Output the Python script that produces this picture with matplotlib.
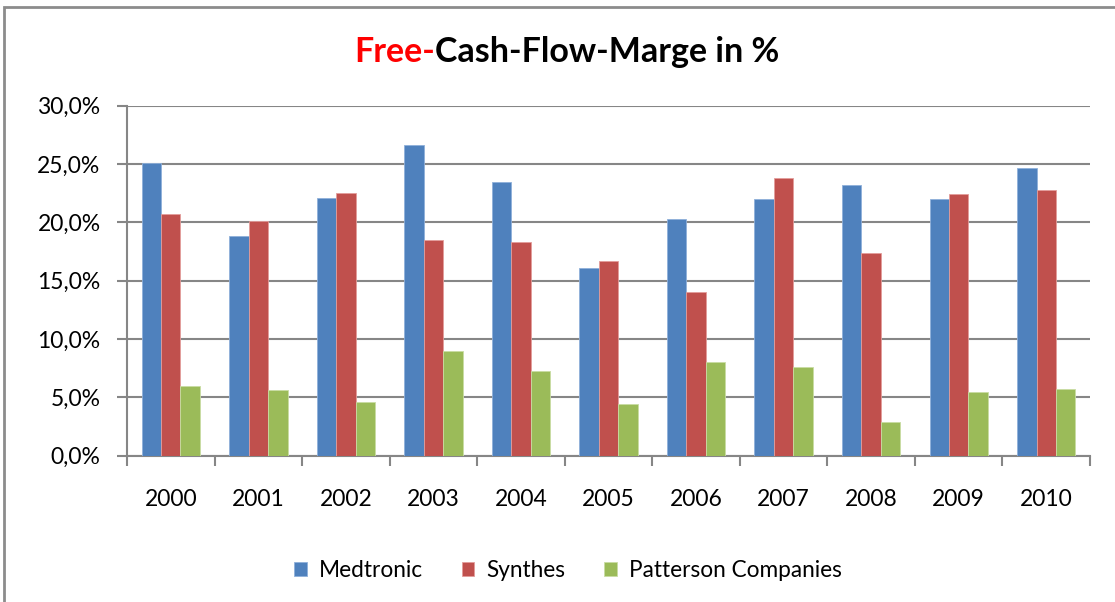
import numpy as np
import matplotlib.pyplot as plt
from matplotlib.patches import Rectangle
from matplotlib.ticker import FuncFormatter

years = ['2000', '2001', '2002', '2003', '2004', '2005', '2006', '2007', '2008', '2009', '2010']
medtronic = [25.1, 18.8, 22.1, 26.6, 23.5, 16.1, 20.3, 22.0, 23.2, 22.0, 24.7]
synthes = [20.7, 20.1, 22.5, 18.5, 18.3, 16.7, 14.0, 23.8, 17.4, 22.4, 22.8]
patterson = [6.0, 5.6, 4.6, 9.0, 7.3, 4.4, 8.0, 7.6, 2.9, 5.5, 5.7]

series = [('Medtronic', medtronic, '#4F81BD', '#8FB0DA'),
          ('Synthes', synthes, '#C0504D', '#E39D9B'),
          ('Patterson Companies', patterson, '#9BBB59', '#C9DDA3')]

plt.rcParams['font.family'] = ['Lato', 'DejaVu Sans']
grey = '#868686'

fig = plt.figure(figsize=(11.15, 6.02), dpi=100)
ax = fig.add_axes([0.1139, 0.243, 0.8637, 0.5814])

# figure frame (cropped at right and bottom)
fig.patches.append(Rectangle((0.004, -0.05), 1.1, 1.05 - 0.012, transform=fig.transFigure,
                             fill=False, edgecolor='#8C8C8C', linewidth=2))

x = np.arange(len(years))
w = 1 / 4.5
for i, (name, vals, col, edge) in enumerate(series):
    ax.bar(x + (i - 1) * w, vals, w, color=col, edgecolor=edge, linewidth=0.6,
           label=name, zorder=3)

ax.set_xlim(-0.5, len(years) - 0.5)
ax.set_ylim(0, 30)
ax.set_yticks(np.arange(0, 31, 5))
ax.yaxis.set_major_formatter(FuncFormatter(lambda v, p: f'{v:.1f}%'.replace('.', ',')))
ax.grid(axis='y', color=grey, linewidth=1.5, zorder=0)

ax.set_xticks(x)
ax.set_xticklabels(years)
ax.set_xticks(np.arange(-0.5, len(years)), minor=True)
ax.tick_params(axis='x', which='major', length=0, pad=24, labelsize=16.5)
ax.tick_params(axis='x', which='minor', length=7, width=1.5, color=grey)
ax.tick_params(axis='y', length=7, width=1.5, color=grey, pad=12, labelsize=16.5)

for s in ['top', 'right']:
    ax.spines[s].set_visible(False)
for s in ['left', 'bottom']:
    ax.spines[s].set_color(grey)
    ax.spines[s].set_linewidth(1.5)

ax.legend(loc='upper center', bbox_to_anchor=(0.458, -0.24), ncol=3, frameon=False,
          fontsize=16.3, handlelength=0.55, handleheight=0.55, handletextpad=0.55,
          columnspacing=1.7)

# two-coloured title
fig.canvas.draw()
r = fig.canvas.get_renderer()
ty = 1 - 52 / 602
t1 = fig.text(0, ty, 'Free-', color='#FF0000', fontsize=24.5, fontweight='bold', va='center')
t2 = fig.text(0, ty, 'Cash-Flow-Marge in %', color='black', fontsize=24.5, fontweight='bold', va='center')
w1 = t1.get_window_extent(r).width
w2 = t2.get_window_extent(r).width
x0 = 567 - (w1 + w2) / 2
t1.set_x(x0 / 1115)
t2.set_x((x0 + w1) / 1115)

fig.savefig('out.png', dpi=100)
